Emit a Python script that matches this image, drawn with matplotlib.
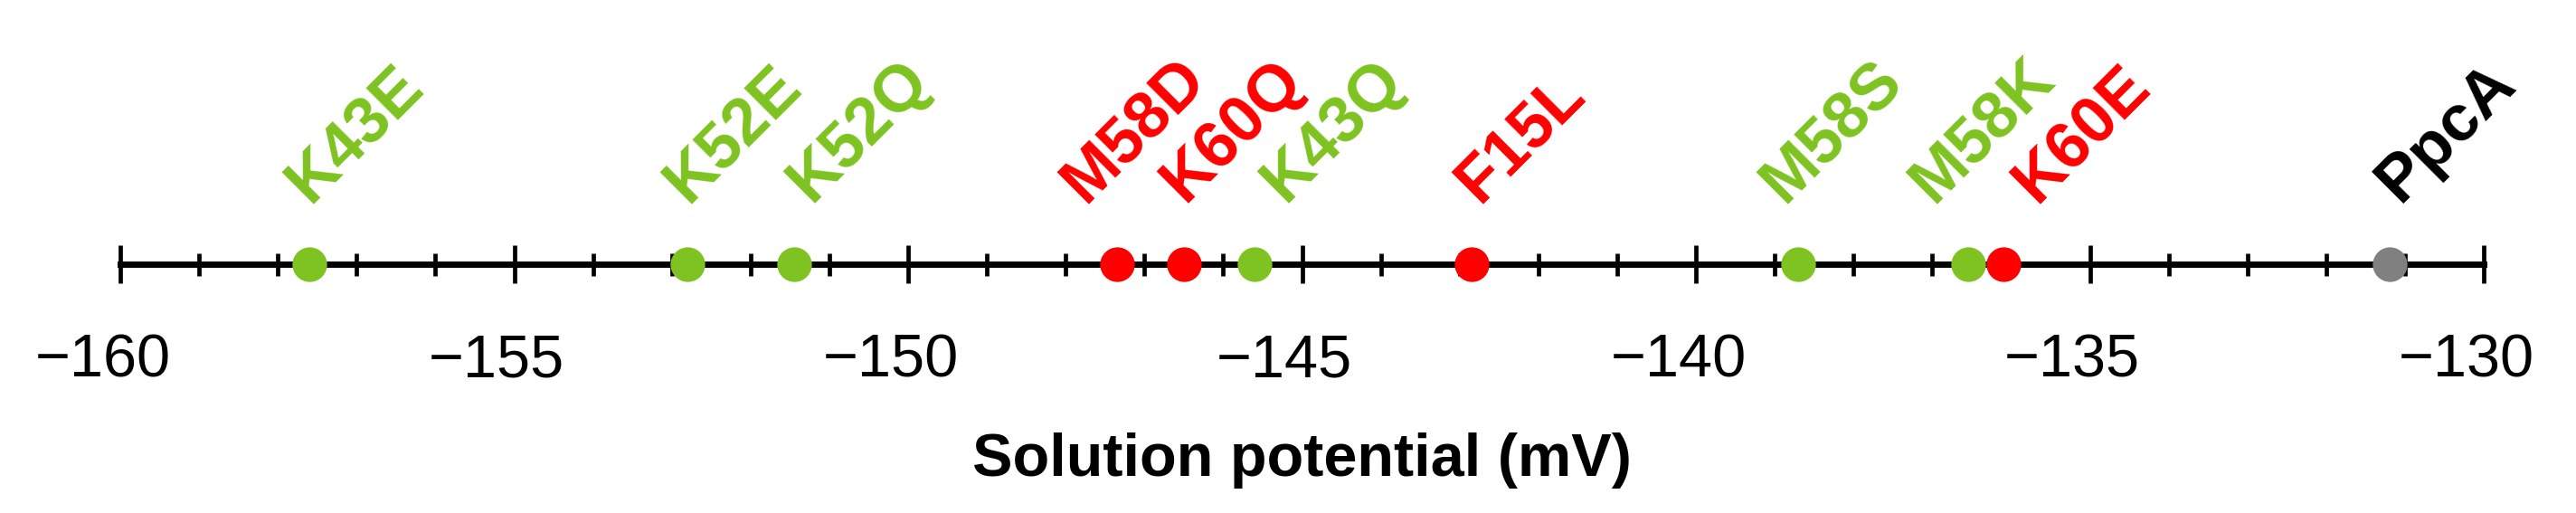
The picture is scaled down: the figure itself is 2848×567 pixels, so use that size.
import matplotlib
matplotlib.use("Agg")
import matplotlib.pyplot as plt
import matplotlib.transforms as mtransforms

plt.rcParams['font.family'] = ['Liberation Sans', 'DejaVu Sans']

# Mutants and their solution potentials (mV)
names = ['K43E', 'K52E', 'K52Q', 'M58D', 'K60Q', 'K43Q', 'F15L',
         'M58S', 'M58K', 'K60E', 'PpcA']
potentials = [-157.6, -152.8, -151.45, -147.35, -146.5, -145.6, -142.85,
              -138.7, -136.55, -136.1, -131.2]
groups = ['g', 'g', 'g', 'r', 'r', 'g', 'r', 'g', 'g', 'r', 'wt']
major_ticks = [-160, -155, -150, -145, -140, -135, -130]

# sideways nudge of each label (points), the labels were spread by hand
label_nudge = [0, 0, 6.5, -13, 0, 12, 3, -6, -14, 13, 4]

dot_colors = {'g': '#7ec321', 'r': '#ff0000', 'wt': '#808080'}
text_colors = {'g': '#7ec321', 'r': '#ff0000', 'wt': '#000000'}

fig = plt.figure(figsize=(14.24, 2.835), dpi=200)
ax = fig.add_axes([0.0467, 0.485, 0.9175, 0.4])

for s in ['top', 'left', 'right']:
    ax.spines[s].set_visible(False)
ax.spines['bottom'].set_linewidth(2.5)
ax.set_yticks([])
ax.set_ylim(0, 1)
ax.set_xlim(major_ticks[0], major_ticks[-1])
ax.set_xticks(major_ticks)
ax.set_xticks(range(major_ticks[0], major_ticks[-1] + 1), minor=True)
ax.tick_params(axis='x', which='major', direction='inout', length=15,
               width=1.7, pad=20, labelsize=24)
ax.tick_params(axis='x', which='minor', direction='inout', length=9,
               width=1.7)

# numbers are centred on the digits, the minus sign hangs out to the left
shift = mtransforms.ScaledTranslation(-7 / 72, 0, fig.dpi_scale_trans)
for lbl in ax.xaxis.get_majorticklabels():
    lbl.set_transform(lbl.get_transform() + shift)

for name, p, g, dx in zip(names, potentials, groups, label_nudge):
    ax.scatter(p, 0, s=190, color=dot_colors[g], zorder=5, clip_on=False,
               linewidths=0)
    ax.annotate(name, (p, 0), xytext=(dx, 24), textcoords='offset points',
                rotation=45, rotation_mode='anchor', ha='left',
                va='baseline', fontsize=26, fontweight='bold',
                color=text_colors[g])

ax.set_xlabel('Solution potential (mV)', fontsize=24, fontweight='bold',
              labelpad=17)

fig.savefig('out.png', dpi=200)
